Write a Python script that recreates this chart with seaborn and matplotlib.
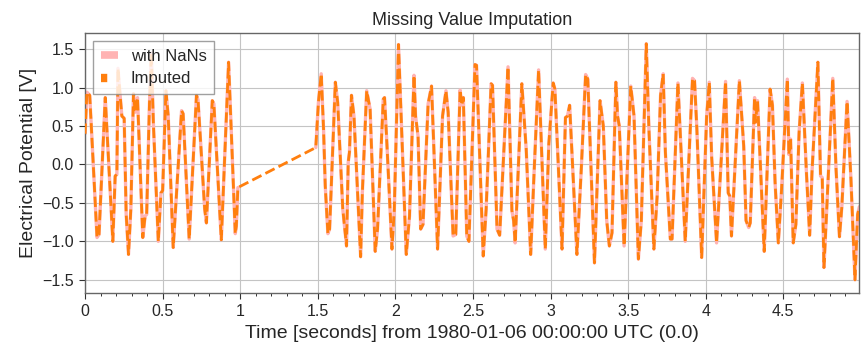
import numpy as np
import pandas as pd
import matplotlib
matplotlib.use("Agg")
import matplotlib.pyplot as plt
from matplotlib.lines import Line2D
from matplotlib.ticker import MultipleLocator
import seaborn as sns

# signal knots (seconds, volts); NaN marks the missing stretch
time_s = [
    0.000, 0.012, 0.030, 0.077, 0.090, 0.130, 0.179, 0.194, 0.205, 0.212,
    0.237, 0.252, 0.265, 0.280, 0.295, 0.312, 0.323, 0.338, 0.372, 0.387,
    0.397, 0.415, 0.427, 0.440, 0.472, 0.489, 0.500, 0.521, 0.536, 0.568,
    0.622, 0.632, 0.671, 0.718, 0.728, 0.771, 0.782, 0.820, 0.830, 0.878,
    0.925, 0.968, 0.975, 0.985,
    1.200,
    1.487, 1.504, 1.522, 1.537, 1.548, 1.565, 1.576, 1.613, 1.628, 1.661,
    1.685, 1.696, 1.704, 1.717, 1.733, 1.776, 1.787, 1.815, 1.837, 1.870,
    1.885, 1.922, 1.930, 1.946, 1.978, 1.993, 2.020, 2.070, 2.091, 2.120,
    2.130, 2.146, 2.163, 2.178, 2.211, 2.233, 2.272, 2.304, 2.326, 2.340,
    2.372, 2.389, 2.417, 2.428, 2.438, 2.460, 2.474, 2.513, 2.523, 2.566,
    2.585, 2.617, 2.626, 2.655, 2.672, 2.726, 2.751, 2.762, 2.772, 2.815,
    2.843, 2.872, 2.894, 2.923, 2.966, 2.989, 3.017, 3.028, 3.074, 3.096,
    3.109, 3.123, 3.170, 3.198, 3.226, 3.240, 3.283, 3.319, 3.340, 3.362,
    3.379, 3.396, 3.421, 3.432, 3.443, 3.474, 3.517, 3.538, 3.566, 3.585,
    3.617, 3.634, 3.666, 3.687, 3.709, 3.726, 3.740, 3.772, 3.783, 3.821,
    3.868, 3.915, 3.928, 3.943, 3.974, 4.006, 4.023, 4.038, 4.070, 4.128,
    4.145, 4.155, 4.166, 4.217, 4.245, 4.260, 4.277, 4.287, 4.315, 4.321,
    4.334, 4.377, 4.415, 4.430, 4.447, 4.468, 4.489, 4.526, 4.536, 4.547,
    4.564, 4.581, 4.602, 4.623, 4.649, 4.670, 4.685, 4.723, 4.740, 4.751,
    4.762, 4.777, 4.819, 4.840, 4.862, 4.877, 4.911, 4.936, 4.962, 4.979,
    4.990,
]
potential_v = [
    0.40, 0.94, 0.90, -0.95, -0.91, 0.87, -1.00, -0.15, -0.13, 1.25,
    0.63, 0.60, -0.65, -1.17, -0.58, 0.92, 0.68, 0.87, -0.95, -0.67,
    -0.65, 0.79, 1.45, 0.55, -1.00, -0.37, -0.34, 0.96, 0.63, -1.08,
    0.70, 0.66, -0.97, 0.90, 0.84, -0.58, -0.76, 0.83, 0.79, -0.98,
    1.33, -0.90, -0.80, -0.30,
    np.nan,
    0.22, 0.81, 1.18, 0.46, -0.28, -0.90, -0.84, 1.07, 0.81, -0.58,
    -1.06, 0.03, 0.16, 0.90, 0.63, -1.20, -0.37, 0.96, 0.72, -1.13,
    -0.84, 0.85, 0.87, 0.24, -1.10, -0.58, 1.56, -1.17, -0.67, 1.16,
    0.63, 0.37, -0.84, -0.78, 0.79, 1.02, -1.10, 0.63, 0.96, 0.68,
    -0.93, -0.91, 0.97, 0.77, 0.87, -0.93, -1.00, 1.30, 1.29, -1.19,
    -0.58, 1.05, 1.03, -0.84, -0.92, 1.27, -0.60, -0.73, -1.02, 1.05,
    0.20, -1.17, -0.10, 1.23, -1.10, 0.27, 1.06, 0.98, -1.10, 0.61,
    0.63, 0.77, -1.17, -0.06, 1.17, 1.11, -1.28, 0.83, 0.50, -0.73,
    -1.06, -0.89, 1.07, 0.63, 0.50, -1.06, 1.02, 0.63, -1.23, -0.73,
    1.57, 0.46, -1.10, -0.41, 0.90, 1.18, 0.16, -0.97, -0.97, 1.06,
    -1.00, 1.12, 1.09, 0.46, -1.21, 0.63, 1.07, 0.11, -1.02, 1.08,
    -0.37, -0.41, -0.93, 1.09, 0.24, -0.73, -0.82, -0.76, 0.87, 0.55,
    0.83, -1.13, 0.98, 0.77, -0.23, -1.02, -0.32, 1.11, 0.13, 0.33,
    -1.02, -0.78, 0.42, 1.06, -0.10, -0.92, -0.10, 1.33, -0.15, -0.17,
    -1.34, -0.71, 1.12, -0.06, -0.94, -0.56, 0.82, -0.19, -1.50, -0.65,
    -0.55,
]

title = "Missing Value Imputation"
x_label = "Time [seconds] from 1980-01-06 00:00:00 UTC (0.0)"
y_label = "Electrical Potential [V]"
labels = ["with NaNs", "Imputed"]
nan_color = "#ffb3b3"
imp_color = "#ff7f0e"

raw = pd.Series(potential_v, index=time_s)
imputed = raw.interpolate(method="index")

df_nan = pd.DataFrame({"t": time_s, "v": potential_v})
df_nan["segment"] = df_nan["v"].isna().cumsum()
df_nan = df_nan.dropna()
df_imp = pd.DataFrame({"t": imputed.index, "v": imputed.values})

sns.set_style("ticks")
plt.rcParams["font.family"] = ["Liberation Sans", "DejaVu Sans"]

fig, ax = plt.subplots(figsize=(8.68, 3.55), dpi=100)
fig.subplots_adjust(left=0.098, right=0.99, top=0.907, bottom=0.175)

sns.lineplot(data=df_nan, x="t", y="v", units="segment", estimator=None,
             sort=False, color=nan_color, linewidth=2.4, ax=ax, zorder=2)
sns.lineplot(data=df_imp, x="t", y="v", estimator=None, sort=False,
             color=imp_color, linewidth=2.0, linestyle="--", ax=ax, zorder=3)

ax.set_xlim(0, 4.99)
ax.set_ylim(-1.67, 1.71)
ax.xaxis.set_minor_locator(MultipleLocator(0.1))
ax.yaxis.set_major_locator(MultipleLocator(0.5))
ax.set_xticks(np.arange(0, 5, 0.5))
ax.set_xticklabels(["0", "0.5", "1", "1.5", "2", "2.5", "3", "3.5", "4", "4.5"])
ax.grid(True, which="major", color="#c4c4c4", linewidth=0.8)
ax.tick_params(which="major", length=4.5, width=0.8, labelsize=11.5, color="#333333")
ax.tick_params(which="minor", length=2.5, width=0.7, color="#333333")
for sp in ax.spines.values():
    sp.set_color("#666666")
    sp.set_linewidth(1.0)

ax.set_title(title, fontsize=13)
ax.set_xlabel(x_label, fontsize=14)
ax.set_ylabel(y_label, fontsize=14)

handles = [
    Line2D([], [], color=nan_color, linewidth=5.5, solid_capstyle="butt"),
    Line2D([], [], color=imp_color, linewidth=6, linestyle=(0, (0.75, 4)),
           dash_capstyle="butt"),
]
leg = ax.legend(handles, labels, loc="upper left", fontsize=12,
                handlelength=1.0, fancybox=False, framealpha=0.8,
                edgecolor="#888888", borderpad=0.45, labelspacing=0.45)
leg.get_frame().set_linewidth(1.0)

plt.savefig("out.png", dpi=100)
